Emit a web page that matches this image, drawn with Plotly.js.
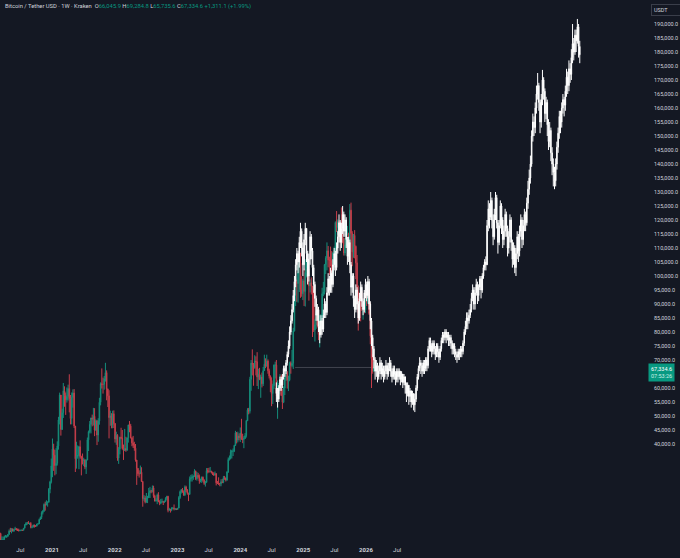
<!DOCTYPE html>
<html><head><meta charset="utf-8">
<script src="https://cdn.plot.ly/plotly-3.0.1.min.js"></script>
<style>html,body{margin:0;padding:0;background:#141823;}#chart{width:680px;height:558px;}</style>
</head><body><div id="chart"></div>
<script>
// ---------- DATA (prices in thousands of USDT) ----------
// BTC/USDT weekly candles, first week starting 2020-03-02
const btcStart = '2020-03-02';
const btcFirstOpen = 8.53;
const btcClose = [
// 2020
8.03,5.36,5.83,5.88,6.78,6.86,7.13,7.70,8.89,8.72,9.68,8.90,9.45,9.75,9.34,9.30,9.00,9.07,9.23,9.16,9.93,11.06,11.57,11.91,11.65,11.67,10.24,10.33,11.08,10.74,10.67,11.37,11.50,13.03,13.80,15.48,15.96,18.41,18.18,19.17,19.27,23.87,26.50,32.20,
// 2021
38.2,36.0,32.3,33.1,39.3,48.6,57.5,45.2,51.2,59.0,57.4,55.8,57.0,59.8,56.2,49.1,56.6,58.2,46.4,34.7,35.7,35.8,39.0,35.5,34.7,34.1,34.25,31.8,34.3,41.5,44.4,47.0,49.3,48.9,49.9,45.0,48.3,43.2,48.2,54.9,61.5,61.3,61.3,63.3,65.5,59.7,57.2,49.4,50.1,46.7,50.8,47.3,
// 2022
41.8,43.1,35.0,38.2,42.4,42.1,38.4,37.7,38.4,37.8,42.2,46.8,46.4,42.2,40.4,39.5,38.5,34.3,31.3,29.4,29.4,29.9,26.6,20.55,20.7,19.3,20.8,20.8,22.6,23.3,23.2,24.3,21.5,19.6,19.8,21.8,19.4,18.8,19.3,19.4,19.2,19.6,20.6,21.3,16.3,16.7,16.4,17.1,17.1,16.8,16.85,16.6,
// 2023
17.1,20.9,23.0,23.7,22.9,21.8,24.6,23.6,22.4,22.0,27.6,27.9,28.3,28.4,30.3,27.6,28.8,28.4,26.8,26.9,28.1,27.1,25.9,26.3,30.5,30.3,30.2,30.3,29.8,29.3,29.0,29.4,26.1,26.0,25.8,25.8,26.5,26.3,27.95,27.9,27.1,30.0,34.5,35.0,37.1,37.4,37.45,39.5,44.0,41.4,42.8,42.3,
// 2024
43.9,41.7,41.6,42.0,43.0,48.3,52.1,51.7,63.1,68.9,68.4,67.2,69.6,69.4,63.9,64.9,63.1,63.9,61.5,66.2,68.5,67.8,69.6,66.2,64.3,62.7,58.0,60.8,68.2,68.2,58.1,58.7,58.9,64.2,57.3,54.9,60.0,63.6,65.6,62.8,62.9,69.0,68.0,68.8,80.4,90.6,97.9,97.3,101.2,104.6,95.1,93.7,98.3,
// 2025
94.5,101.3,102.6,97.7,96.5,97.6,96.3,94.3,80.7,82.6,86.1,82.3,79.1,83.7,85.1,93.7,94.3,104.1,106.4,109.0,105.7,105.6,105.5,100.9,108.3,109.2,119.1,117.3,119.4,114.1,119.3,117.4,113.5,108.2,111.1,115.3,115.3,112.2,123.5,115.2,108.6,114.5,110.6,104.7,94.2,86.9,90.4,88.5,88.2,88.3,87.8,91.5,
// 2026
90.5,95.0,86.6,78.6,70.5,66.0459,67.3346
];
const btcHigh = [
// 2020
9.19,8.17,7.00,6.95,7.30,7.47,7.30,7.75,9.47,10.06,9.95,9.84,9.74,10.43,9.99,9.79,9.76,9.40,9.46,9.32,9.93,11.40,12.07,12.08,12.48,11.80,12.09,10.59,11.18,11.17,10.96,11.49,11.72,13.35,14.08,15.96,16.48,18.80,19.40,19.90,19.42,24.28,26.87,34.80,
// 2021
41.95,40.1,37.85,38.5,40.95,49.7,58.35,57.5,52.6,61.8,60.6,58.4,60.2,61.2,64.9,57.5,58.4,59.5,59.6,45.8,40.8,39.5,39.3,41.3,35.8,36.6,35.1,34.6,34.5,42.3,44.8,48.2,49.4,50.5,52.9,52.8,48.8,48.5,49.2,56.5,62.0,67.0,63.7,64.3,69.0,66.3,59.3,59.2,51.9,51.0,51.9,52.0,
// 2022
47.5,44.4,43.5,38.9,42.6,45.8,45.0,39.8,45.4,42.6,42.3,46.9,48.2,47.2,42.4,42.9,40.8,40.0,34.3,31.4,30.6,32.3,31.7,26.8,21.8,21.5,22.5,21.5,24.3,24.7,23.6,25.2,25.1,21.9,20.6,22.3,22.8,19.9,20.4,20.5,19.7,19.7,21.0,21.5,21.5,17.2,16.8,17.4,17.4,18.4,17.0,16.9,
// 2023
17.1,21.4,23.4,23.9,24.3,23.4,25.2,25.1,23.9,22.6,28.4,29.0,29.2,28.8,31.0,30.5,30.0,29.7,29.1,27.6,28.4,28.4,27.4,26.8,31.4,31.4,31.5,31.8,30.4,30.1,29.9,30.2,29.6,26.8,28.1,26.1,27.4,27.5,28.6,28.6,28.0,30.3,35.2,35.9,38.0,37.9,38.4,39.7,44.7,44.3,44.4,43.8,
// 2024
45.9,49.0,43.6,42.8,43.9,48.6,52.8,52.9,64.0,70.0,73.8,68.9,71.7,71.3,72.8,66.9,67.2,64.7,65.5,67.5,71.9,70.6,71.9,70.2,66.9,64.5,63.8,61.5,68.4,69.4,70.0,62.7,61.8,65.0,64.8,59.8,60.6,64.1,66.5,66.1,64.4,69.4,69.5,73.6,81.5,93.5,99.6,98.7,104.0,106.6,108.3,99.9,99.0,
// 2025
102.7,106.0,109.3,106.4,102.5,98.8,99.5,96.5,95.0,84.5,87.4,88.8,88.5,86.0,86.4,95.8,97.9,104.3,107.1,112.0,110.7,106.9,110.5,108.9,108.5,110.5,119.5,123.2,120.2,119.8,119.3,124.5,117.6,113.6,113.4,116.7,117.9,115.4,125.7,126.2,116.0,115.0,116.4,110.9,107.5,96.6,93.1,94.2,94.6,90.4,90.6,91.8,
// 2026
94.8,97.9,95.5,90.5,79.3,72.0,69.2848
];
const btcLow = [
// 2020
7.83,3.85,4.44,5.70,5.86,6.75,6.47,6.77,7.64,8.64,8.10,8.80,8.63,9.30,9.18,8.92,8.84,8.90,9.07,9.03,9.15,9.90,10.96,11.16,11.40,11.10,9.88,9.88,10.25,10.14,10.40,10.54,11.22,11.42,12.88,13.20,14.83,15.79,16.20,18.20,17.62,19.00,22.40,25.90,
// 2021
28.13,30.4,28.8,29.2,32.3,37.99,47.0,43.0,45.0,49.3,53.3,50.4,54.8,55.5,51.3,47.0,47.0,53.0,45.7,30.0,31.2,34.8,31.0,34.8,28.8,32.7,32.1,31.0,29.3,34.2,37.5,43.8,43.8,46.3,46.6,42.8,44.7,39.6,40.8,46.9,53.8,59.8,58.0,59.4,62.3,55.6,53.2,42.0,46.5,45.6,45.6,45.7,
// 2022
40.5,39.7,34.0,32.9,36.3,41.7,38.0,34.3,37.5,37.2,37.6,40.5,44.2,42.0,39.2,38.6,37.6,33.7,25.4,28.6,28.0,29.3,26.5,17.6,19.7,18.8,19.0,18.9,20.7,20.7,22.4,22.7,20.8,19.5,19.5,18.5,19.3,18.15,18.5,19.1,18.2,18.9,19.3,20.0,15.6,16.2,15.5,16.0,16.8,16.3,16.4,16.4,
// 2023
16.5,17.1,20.4,22.3,22.6,21.5,21.4,22.8,21.9,19.6,21.9,26.6,26.6,27.2,28.2,27.1,26.9,27.7,25.8,26.3,26.1,26.5,25.4,24.8,26.2,29.5,29.7,29.9,29.5,28.9,28.6,28.7,25.2,25.7,25.4,24.9,24.9,26.0,26.0,27.2,26.6,26.9,29.7,34.1,34.5,34.8,35.7,37.1,39.3,40.2,40.6,41.3,
// 2024
40.7,41.5,40.3,38.5,41.8,42.3,48.3,50.6,50.9,59.0,64.5,60.8,66.9,64.5,60.7,59.6,62.8,56.5,60.2,60.7,66.1,67.1,67.6,65.1,63.4,58.5,53.5,54.3,59.6,63.4,57.1,49.0,56.1,57.8,57.2,52.5,54.6,57.5,62.5,59.8,58.9,62.4,65.1,67.4,66.8,80.2,89.3,90.8,90.5,94.3,92.2,92.6,91.4,
// 2025
89.3,89.1,99.5,97.0,91.2,94.1,93.4,78.2,80.0,76.6,81.1,81.6,77.1,74.5,83.1,84.7,92.8,93.4,100.7,102.0,103.1,100.4,103.4,98.2,99.6,105.1,107.5,115.7,114.7,112.0,112.7,116.8,111.7,107.3,107.3,110.6,114.4,108.6,111.6,102.0,103.5,106.5,106.3,98.9,93.0,80.5,85.3,83.8,87.5,84.4,86.6,86.8,
// 2026
89.3,90.0,86.1,75.6,60.0,65.1,65.7356
];

// White projected bars pattern, first week starting 2024-07-29
const projStart = '2024-07-29';
const projFirstOpen = 60;
const projClose = [
58,56,60,63,61,64,67,66,69,72, 75,80,84,88,93,98,104,108,105,112,
116,110,104,113,117,108,100,106,114,109, 103,97,92,86,88,82,79,84,81,86,
90,87,94,99,95,101,97,104,108,103, 110,114,119,112,117,122,116,120,113,107,
112,104,96,100,92,88,95,90,85,92, 96,91,88,94,97,93,98,90,84,78,
74,70,66,68,64,66,69,65,67,64, 66,68,65,67,69,66,64,67,65,63,
66,64,66,63,65,62,64,61,58,61, 57,59,55,58,54,56,60,64,67,69,
68,66,69,67,70,68,74,77,75,73, 76,74,72,75,73,71,74,77,79,78,
80,78,79,77,78,76,74,75,73,72, 71,73,72,74,73,76,80,82,85,84,
86,88,92,95,90,94,97,93,96,99, 95,100,103,105,104,118,124,121,127,120,
114,122,128,119,112,118,125,120,113,116, 122,117,110,114,120,112,106,110,103,108,
114,109,116,120,113,118,122,119,126,131, 135,140,150,155,153,160,165,168,162,155,
163,170,166,158,162,154,148,152,144,140, 137,134,140,146,151,157,155,160,163,161,
166,171,168,174,172,178,183,180,186,184, 189,182,179
];
const projHigh = [
62,60,61,64,64,65,68,68,70,73, 77,82,86,90,95,100,106,110,109,114,
119,117,112,115,119,117,109,108,116,115, 110,104,98,93,90,89,84,86,85,88,
92,91,96,101,100,103,102,106,110,109, 112,116,122,120,119,125,123,122,121,114,
114,113,105,101,101,93,97,96,91,94, 98,97,92,95,99,98,100,99,91,85,
79,75,71,70,69,68,71,70,69,68, 68,70,69,69,71,70,67,68,68,66,
67,67,67,66,66,65,65,64,62,62, 61,60,59,59,58,58,61,65,68,71,
70,69,70,70,71,71,75,78,78,76, 77,77,75,76,76,74,75,78,80,80,
81,81,80,80,79,79,77,76,76,74, 73,74,74,75,75,77,81,84,87,87,
88,90,94,97,96,96,99,98,97,100, 100,101,104,106,107,120,127,126,130,128,
122,124,130,129,120,120,127,126,121,118, 124,123,118,116,122,121,113,112,111,110,
116,115,118,122,121,120,124,123,128,134, 138,143,152,158,157,162,168,172.5,169,163,
165,173.6,171,167,164,163,156,155,153,146, 142,139,142,148,153,159,159,162,165,164,
168,174,173,177,176,181,190,185,188,188, 191.8,190,184
];
const projLow = [
55,53,55,59,59,60,63,64,65,68, 71,74,79,83,87,91,96,102,101,103,
110,107,100,102,111,105,97,98,104,106, 100,94,89,84,84,80,76,78,79,80,
85,85,86,93,93,94,94,96,102,100, 102,108,112,109,110,115,114,114,110,104,
105,101,93,94,89,85,87,88,83,84, 91,89,86,87,92,91,92,88,81,75,
71,67,63,64,62,63,65,63,64,62, 63,65,63,64,66,64,62,63,63,61,
62,62,63,61,62,60,61,58,55,57, 54,55,53,54,52,51.4,55,59,63,66,
65,64,65,65,66,66,67,73,73,71, 72,72,70,71,71,69,70,73,76,76,
77,76,77,75,75,74,72,72,71,70, 69,70,70,71,71,72,75,79,81,81,
83,85,87,91,88,88,93,90,91,95, 92,94,99,102,102,104,116,117,120,117,
111,113,120,117,108,111,117,115,110,111, 114,114,107,108,112,109,103,104,101,100,
106,105,107,114,110,111,116,116,118,124, 129,133,139,148,150,151,158,163,159,151,
153,161,163,155,156,150,145,146,141,136, 132,131,132,138,144,149,151,153,158,157,
159,164,165,166,169,170,176,177,179,180, 183,178,176
];

// Axis ticks
const xTickVals = ['2020-07-01','2021-01-01','2021-07-01','2022-01-01','2022-07-01','2023-01-01','2023-07-01','2024-01-01','2024-07-01','2025-01-01','2025-07-01','2026-01-01','2026-07-01'];
const xTickText = ['Jul','2021','Jul','2022','Jul','2023','Jul','2024','Jul','2025','Jul','2026','Jul'];
const yTickVals = [40000,45000,50000,55000,60000,70000,75000,80000,85000,90000,95000,100000,105000,110000,115000,120000,125000,130000,135000,140000,145000,150000,155000,160000,165000,170000,175000,180000,185000,190000];

// Header / labels
const headerTitle = 'Bitcoin / Tether USD · 1W · Kraken';
const ohlc = {O:'66,045.9', H:'69,284.8', L:'65,735.6', C:'67,334.6'};
const change = '+1,311.1 (+1.99%)';
const lastPriceText = '67,334.6';
const countdownText = '07:53:26';
const currency = 'USDT';

// ---------- BUILD ----------
function weeklyDates(start, n){
  const out=[]; const d0=new Date(start+'T00:00:00Z');
  for(let i=0;i<n;i++){ const d=new Date(d0.getTime()+i*7*86400000); out.push(d.toISOString().slice(0,10)); }
  return out;
}
function buildOHLC(firstOpen, close, high, low){
  const o=[],h=[],l=[],c=[];
  for(let i=0;i<close.length;i++){
    const op = i===0?firstOpen:close[i-1];
    const cl = close[i];
    o.push(op*1000); c.push(cl*1000);
    h.push(Math.max(high[i],op,cl)*1000);
    l.push(Math.min(low[i],op,cl)*1000);
  }
  return {o,h,l,c};
}
const btc = buildOHLC(btcFirstOpen, btcClose, btcHigh, btcLow);
const proj = buildOHLC(projFirstOpen, projClose, projHigh, projLow);
const btcX = weeklyDates(btcStart, btcClose.length);
const projX = weeklyDates(projStart, projClose.length);

const BG = '#141823';
const UP = '#169a85', DOWN = '#d9434f';
const FONT = 'Roboto, "Liberation Sans", sans-serif';

const traces = [
  {type:'candlestick', x:btcX, open:btc.o, high:btc.h, low:btc.l, close:btc.c,
   increasing:{line:{color:UP,width:1}, fillcolor:UP},
   decreasing:{line:{color:DOWN,width:1}, fillcolor:DOWN},
   whiskerwidth:0, opacity:0.9, hoverinfo:'skip'},
  {type:'candlestick', x:projX, open:proj.o, high:proj.h, low:proj.l, close:proj.c,
   increasing:{line:{color:'#ffffff',width:1}, fillcolor:'#ffffff'},
   decreasing:{line:{color:'#ffffff',width:1}, fillcolor:'#ffffff'},
   whiskerwidth:0, hoverinfo:'skip'}
];

const lastClose = btc.c[btc.c.length-1];
const lastDate = btcX[btcX.length-1];
const g = s=>'<span style="color:#089981">'+s+'</span>';
const headerHtml = headerTitle + '  O'+g(ohlc.O)+' H'+g(ohlc.H)+' L'+g(ohlc.L)+' C'+g(ohlc.C)+' '+g(change);

const layout = {
  width:680, height:558,
  paper_bgcolor:BG, plot_bgcolor:BG,
  margin:{l:0,r:34,t:0,b:18,pad:0},
  showlegend:false,
  font:{family:FONT, color:'#d1d4dc'},
  xaxis:{type:'date', range:['2020-03-05','2030-06-17'], showgrid:false, zeroline:false, showline:false,
    tickvals:xTickVals, ticktext:xTickText.map(t=>t==='Jul'?t:'<b>'+t+'</b>'),
    tickfont:{family:FONT,size:6,color:'#d1d4dc'}, ticks:'', ticklabelstandoff:5,
    rangeslider:{visible:false}, fixedrange:true},
  yaxis:{side:'right', range:[5714,198571], showgrid:false, zeroline:false, showline:false,
    tickvals:yTickVals, tickformat:',.1f', ticks:'',
    tickfont:{family:FONT,size:5.5,color:'#d1d4dc'}, ticklabelstandoff:7, fixedrange:true},
  shapes:[
    {type:'line', xref:'x', x0:'2024-11-15', x1:lastDate, yref:'y', y0:lastClose, y1:lastClose,
     line:{color:'rgba(120,123,134,0.45)', width:1}, layer:'below'}
  ],
  annotations:[
    {xref:'paper', yref:'paper', x:0, y:1, xanchor:'left', yanchor:'top', xshift:3, yshift:-1,
     text:headerHtml, showarrow:false, align:'left', font:{family:FONT,size:5.8,color:'#d1d4dc'}},
    {xref:'paper', yref:'paper', x:1, y:1, xanchor:'left', yanchor:'top', xshift:5, yshift:-4,
     text:currency+'        ', showarrow:false, align:'left', bgcolor:BG, bordercolor:'#3a3e4a', borderwidth:1, borderpad:2,
     font:{family:FONT,size:5.5,color:'#d1d4dc'}},
    {xref:'paper', yref:'y', x:1, y:lastClose, xanchor:'left', yanchor:'top', xshift:2, yshift:4,
     text:lastPriceText+'<br><span style="color:#c9efe7">'+countdownText+'</span>', showarrow:false, align:'left',
     bgcolor:'#089981', borderpad:2, font:{family:FONT,size:5.5,color:'#ffffff'}}
  ]
};
Plotly.newPlot('chart', traces, layout, {staticPlot:true, displayModeBar:false});
</script></body></html>
